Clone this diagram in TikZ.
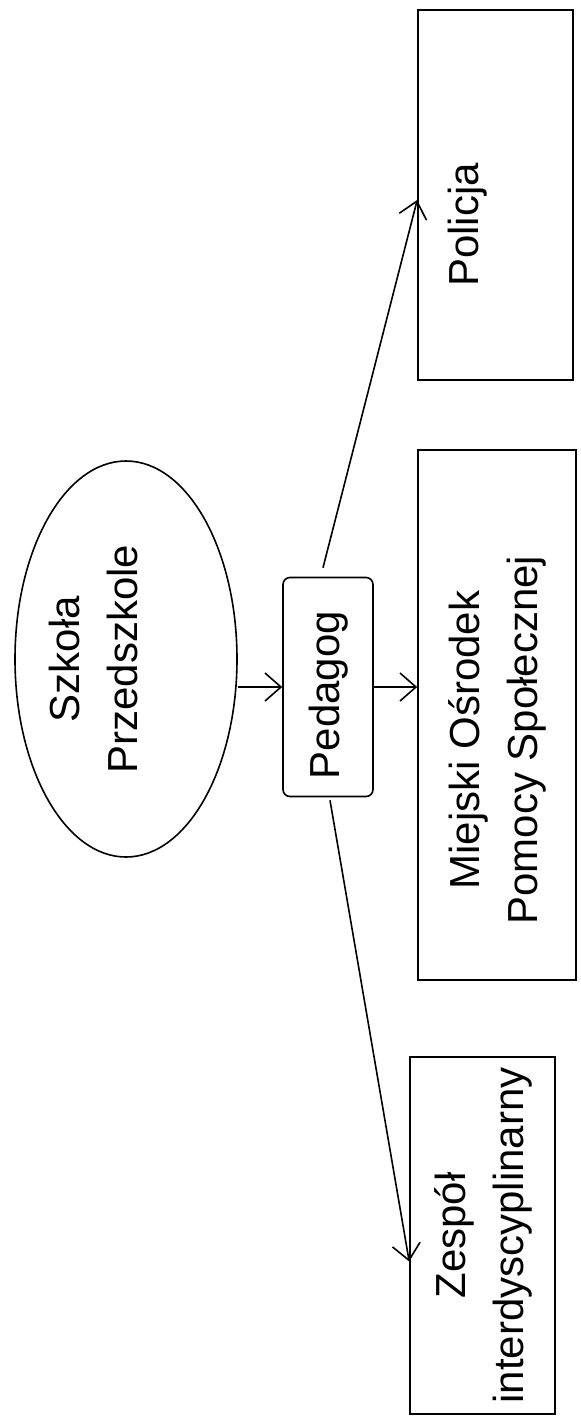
\documentclass[tikz,border=0pt]{standalone}
\usepackage{fontspec}
\setmainfont{Liberation Sans}
\usepackage{tikz}
\usetikzlibrary{positioning,arrows.meta,shapes.geometric}
\tikzset{
	diagram/.style={x=0.5pt,y=-0.5pt,>={Straight Barb[length=8pt,width=14pt]},
		line width=0.8pt,font=\fontsize{21}{29}\selectfont},
	place/.style={ellipse,draw,inner xsep=-14pt,inner ysep=0pt,minimum width=111pt,minimum height=198pt},
	agent/.style={rectangle,draw,rounded corners=3.5pt,inner sep=0pt,
		minimum width=45pt,minimum height=109.5pt},
	office/.style={rectangle,draw,inner sep=0pt}
}
% text turned upwards, optional push towards the bottom of the page
\newcommand{\vlabel}[2][0pt]{\rotatebox{90}{\begin{tabular}{@{}c@{}}#2\end{tabular}\hspace*{#1}}}

\begin{document}
\begin{tikzpicture}[diagram]
	\useasboundingbox (0,0) rectangle (580,1426);
	
	\node[place] (szkola) at (126,659) {\vlabel{Szkoła\\Przedszkole\\{}}};
	\node[agent] (pedagog) at (328,687) {\vlabel[8pt]{Pedagog}};
	\node[office,minimum width=77.5pt,minimum height=185pt] (policja) at (495.5,195) {\vlabel[30pt]{Policja\\{}}};
	\node[office,minimum width=79pt,minimum height=265pt] (mops) at (497,715) {\vlabel[25pt]{Miejski Ośrodek\\Pomocy Społecznej}};
	\node[office,minimum width=72.5pt,minimum height=178.5pt] (zespol) at (482.5,1235.5) {\vlabel{Zespół\\interdyscyplinarny}};
	
	\path[->] (szkola.east |- pedagog.west) edge (pedagog.west);
	\path[->] (pedagog.east) edge (pedagog.east -| mops.west);
	\path[->] ([shift={(-5,-9)}]pedagog.north) edge ([shift={(0,5)}]policja.west);
	\path[->] ([shift={(2,3)}]pedagog.south) edge ([shift={(0,26)}]zespol.west);
\end{tikzpicture}
\end{document}
